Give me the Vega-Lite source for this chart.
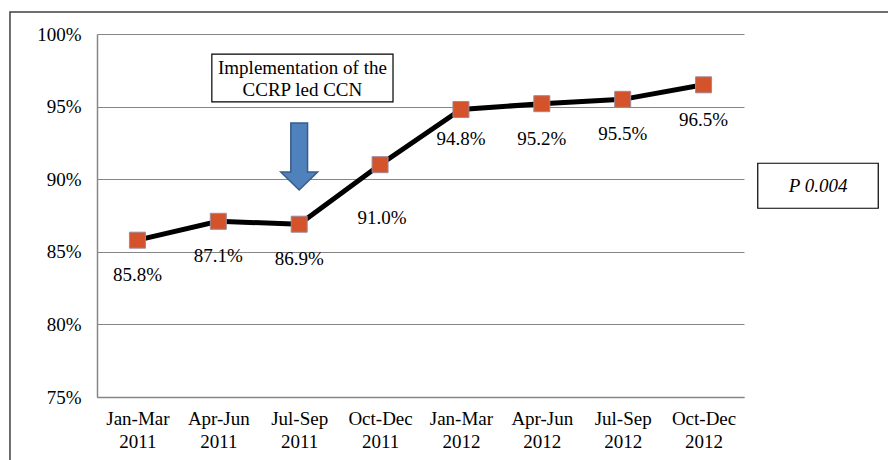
{
  "$schema": "https://vega.github.io/schema/vega-lite/v6.json",
  "width": 647,
  "height": 363,
  "autosize": {"type": "none"},
  "padding": {"left": 97, "top": 34, "right": 144, "bottom": 63},
  "background": "white",
  "config": {
    "font": "Liberation Serif",
    "text": {"font": "Liberation Serif"},
    "axis": {"labelFont": "Liberation Serif"},
    "view": {"stroke": null}
  },
  "datasets": {
    "main": [
      {"quarter": "Jan-Mar 2011", "pct": 85.8, "label": "85.8%"},
      {"quarter": "Apr-Jun 2011", "pct": 87.1, "label": "87.1%"},
      {"quarter": "Jul-Sep 2011", "pct": 86.9, "label": "86.9%"},
      {"quarter": "Oct-Dec 2011", "pct": 91.0, "label": "91.0%"},
      {"quarter": "Jan-Mar 2012", "pct": 94.8, "label": "94.8%"},
      {"quarter": "Apr-Jun 2012", "pct": 95.2, "label": "95.2%"},
      {"quarter": "Jul-Sep 2012", "pct": 95.5, "label": "95.5%"},
      {"quarter": "Oct-Dec 2012", "pct": 96.5, "label": "96.5%"}
    ]
  },
  "resolve": {"scale": {"x": "independent"}},
  "layer": [
    {
      "data": {"name": "main"},
      "encoding": {
        "x": {
          "field": "quarter",
          "type": "ordinal",
          "sort": null,
          "scale": {"paddingInner": 0, "paddingOuter": 0},
          "axis": {
            "title": null,
            "labelAngle": 0,
            "labelExpr": "split(datum.label, ' ')",
            "labelFontSize": 19,
            "labelColor": "black",
            "labelPadding": 12,
            "labelLineHeight": 23,
            "ticks": false,
            "domainColor": "#868686",
            "domainWidth": 1.5,
            "grid": false
          }
        },
        "y": {
          "field": "pct",
          "type": "quantitative",
          "scale": {"domain": [75, 100], "nice": false, "zero": false},
          "axis": {
            "title": null,
            "values": [75, 80, 85, 90, 95, 100],
            "labelExpr": "datum.value + '%'",
            "labelFontSize": 19,
            "labelColor": "black",
            "labelPadding": 16,
            "ticks": false,
            "domainColor": "#868686",
            "domainWidth": 1.5,
            "gridColor": "#868686",
            "gridWidth": 1
          }
        }
      },
      "layer": [
        {"mark": {"type": "line", "color": "black", "strokeWidth": 5}},
        {"mark": {"type": "square", "size": 256, "filled": true, "fill": "#D5532B", "stroke": "#9C8A9E", "strokeWidth": 1, "opacity": 1}},
        {
          "transform": [{"filter": "datum.pct != 91.0 && datum.pct != 94.8"}],
          "mark": {"type": "text", "font": "Liberation Serif", "fontSize": 19, "color": "black", "dy": 35},
          "encoding": {"text": {"field": "label"}}
        },
        {
          "transform": [{"filter": "datum.pct == 94.8"}],
          "mark": {"type": "text", "font": "Liberation Serif", "fontSize": 19, "color": "black", "dy": 29},
          "encoding": {"text": {"field": "label"}}
        },
        {
          "transform": [{"filter": "datum.pct == 91.0"}],
          "mark": {"type": "text", "font": "Liberation Serif", "fontSize": 19, "color": "black", "dy": 53, "dx": 2},
          "encoding": {"text": {"field": "label"}}
        }
      ]
    },
    {
      "data": {"values": [{"x1": 1.42, "x2": 3.66, "y1": 98.62, "y2": 95.32}]},
      "mark": {"type": "rect", "fill": "white", "stroke": "black", "strokeWidth": 1.2, "clip": false},
      "encoding": {
        "x": {"field": "x1", "type": "quantitative", "scale": {"domain": [0, 8], "nice": false, "zero": false}, "axis": null},
        "x2": {"field": "x2"},
        "y": {"field": "y1", "type": "quantitative"},
        "y2": {"field": "y2"}
      }
    },
    {
      "data": {"values": [{"x": 2.54, "y": 97.65, "t": "Implementation of the"}, {"x": 2.54, "y": 96.15, "t": "CCRP led CCN"}]},
      "mark": {"type": "text", "font": "Liberation Serif", "fontSize": 19, "color": "black", "baseline": "middle"},
      "encoding": {
        "x": {"field": "x", "type": "quantitative", "scale": {"domain": [0, 8], "nice": false, "zero": false}, "axis": null},
        "y": {"field": "y", "type": "quantitative"},
        "text": {"field": "t"}
      }
    },
    {
      "data": {"values": [{"x": 2.5, "y": 91.56}]},
      "mark": {
        "type": "point",
        "shape": "M -0.25 -1 L 0.25 -1 L 0.25 0.46 L 0.55 0.46 L 0 1 L -0.55 0.46 L -0.25 0.46 Z",
        "size": 4489,
        "filled": true,
        "fill": "#4F81BD",
        "stroke": "#385D8A",
        "strokeWidth": 1.5,
        "opacity": 1
      },
      "encoding": {
        "x": {"field": "x", "type": "quantitative", "scale": {"domain": [0, 8], "nice": false, "zero": false}, "axis": null},
        "y": {"field": "y", "type": "quantitative"}
      }
    },
    {
      "data": {"values": [{"x1": 8.17, "x2": 9.66, "y1": 91.1, "y2": 88.0}]},
      "mark": {"type": "rect", "fill": "white", "stroke": "black", "strokeWidth": 1.2, "clip": false},
      "encoding": {
        "x": {"field": "x1", "type": "quantitative", "scale": {"domain": [0, 8], "nice": false, "zero": false}, "axis": null},
        "x2": {"field": "x2"},
        "y": {"field": "y1", "type": "quantitative"},
        "y2": {"field": "y2"}
      }
    },
    {
      "data": {"values": [{"x": 8.915, "y": 89.55, "t": "P 0.004"}]},
      "mark": {"type": "text", "font": "Liberation Serif", "fontSize": 19, "fontStyle": "italic", "color": "black", "baseline": "middle", "clip": false},
      "encoding": {
        "x": {"field": "x", "type": "quantitative", "scale": {"domain": [0, 8], "nice": false, "zero": false}, "axis": null},
        "y": {"field": "y", "type": "quantitative"},
        "text": {"field": "t"}
      }
    },
    {
      "data": {"values": [{"x1": -1.076, "x2": 10.5, "y1": 101.52, "y2": 69.0}]},
      "mark": {"type": "rect", "fill": null, "fillOpacity": 0, "stroke": "#404040", "strokeWidth": 1.5, "clip": false},
      "encoding": {
        "x": {"field": "x1", "type": "quantitative", "scale": {"domain": [0, 8], "nice": false, "zero": false}, "axis": null},
        "x2": {"field": "x2"},
        "y": {"field": "y1", "type": "quantitative"},
        "y2": {"field": "y2"}
      }
    }
  ]
}
